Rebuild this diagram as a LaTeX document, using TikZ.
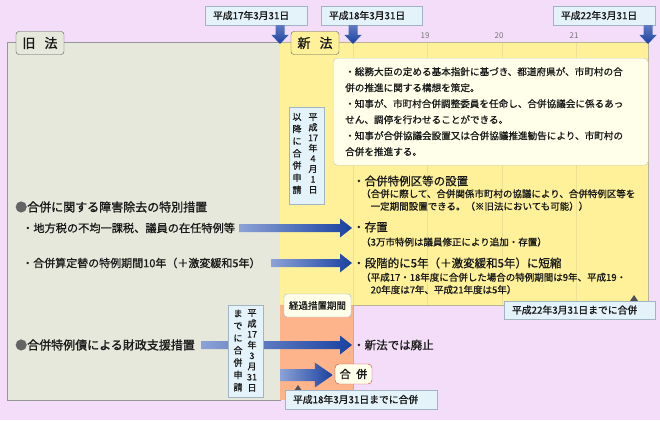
\documentclass[tikz,border=0pt]{standalone}
\usepackage{fontspec}
\usepackage{graphicx}
\setmainfont{Noto Sans CJK JP}
\newfontfamily\jpm{Noto Sans CJK JP}[FakeBold=0.8]
\newfontfamily\jpb{Noto Sans CJK JP}[FakeBold=1.4]
\usetikzlibrary{calc}
\definecolor{bgc}{RGB}{243,221,249}
\definecolor{oldc}{RGB}{229,232,219}
\definecolor{oldline}{RGB}{150,150,150}
\definecolor{newc}{RGB}{255,241,153}
\definecolor{newline}{RGB}{185,180,150}
\definecolor{gridc}{RGB}{236,224,150}
\definecolor{orc}{RGB}{253,180,138}
\definecolor{infofill}{RGB}{255,255,234}
\definecolor{infoline}{RGB}{200,200,180}
\definecolor{bfill}{RGB}{228,243,250}
\definecolor{bline}{RGB}{160,180,195}
\definecolor{alight}{RGB}{140,162,215}
\definecolor{adark}{RGB}{25,65,160}
\definecolor{txt}{RGB}{25,25,25}
\definecolor{bul}{RGB}{100,100,100}
\definecolor{redl}{RGB}{210,60,60}
\definecolor{tric}{RGB}{80,80,90}
\definecolor{labline}{RGB}{90,90,90}
\definecolor{yrc}{RGB}{120,120,120}
\newcommand{\hblue}[5]{\shade[left color=alight,right color=adark] let \p1=(#1),\p2=(#2) in (\x1,\y1+#3) -- (\x2-#5,\y1+#3) -- (\x2-#5,\y1+#4) -- (\x2,\y1) -- (\x2-#5,\y1-#4) -- (\x2-#5,\y1-#3) -- (\x1,\y1-#3) -- cycle;}
\newcommand{\vblue}[2]{\shade[top color=alight!60!adark,bottom color=adark] let \p1=(#1),\p2=(#2) in (\x1-4.5pt,\y1) -- (\x1+4.5pt,\y1) -- (\x1+4.5pt,\y2+9pt) -- (\x1+8.5pt,\y2+9pt) -- (\x1,\y2) -- (\x1-8.5pt,\y2+9pt) -- (\x1-4.5pt,\y2+9pt) -- cycle;}
\begin{document}
\begin{tikzpicture}[x=1pt,y=-1pt,
  lawlab/.style={draw=labline, rounded corners=3, minimum width=48, minimum height=23, inner sep=0, text=txt, font=\jpb\fontsize{13}{14}\selectfont},
  datebox/.style={draw=bline, fill=bfill, minimum height=19, inner xsep=8, inner ysep=0, align=left, text=txt, font=\jpm\fontsize{9.8}{11}\selectfont},
  yearlbl/.style={inner sep=0, text=yrc, font=\fontsize{8}{9}\selectfont},
  vbox/.style={draw=bline, fill=bfill, inner sep=0},
  vcol/.style={align=center, inner sep=0, text=txt},
  headtxt/.style={anchor=west, inner sep=0, text=txt, font=\jpb\fontsize{12}{13}\selectfont},
  subtxt/.style={anchor=west, inner sep=0, text=txt, font=\jpm\fontsize{11.2}{12}\selectfont},
  smalltxt/.style={anchor=west, inner sep=0, align=left, text=txt, font=\jpm\fontsize{9.5}{12.5}\selectfont},
  tri/.style={fill=tric}
]
\useasboundingbox (0,0) rectangle (660,420);
\fill[bgc] (0,0) rectangle (660,420);
% regions
\draw[fill=oldc, draw=oldline] (7,42) rectangle (280,400);
\fill[newc] (280,42) rectangle (648,305);
\fill[orc] (280,305) rectangle (353,400);
\foreach \gx in {353,427,502,576} \draw[gridc] (\gx,42) -- (\gx,305);
\draw[newline] (353,400) -- (353,305) -- (648,305) -- (648,42) -- (280,42);
% law labels
\node[lawlab, fill=oldc] (old) at (40,43) {旧\hspace{0.7em}法};
\node[lawlab, fill=newc] (new) at (315,43) {新\hspace{0.7em}法};
% date boxes and arrows
\node[datebox, minimum width=102, text width=86] (d1) at (256,15.5) {平成17年3月31日};
\node[datebox, minimum width=101, text width=85] (d2) at (371.5,15.5) {平成18年3月31日};
\node[datebox, minimum width=102, text width=86] (d3) at (604,15.5) {平成22年3月31日};
\coordinate (t1) at (280,44);
\coordinate (t2) at (353,44);
\coordinate (t3) at (648,44);
\vblue{d1.south -| t1}{t1}
\vblue{d2.south -| t2}{t2}
\vblue{d3.south -| t3}{t3}
\node[yearlbl] (y19) at (425,36) {19};
\node[yearlbl] (y20) at (499,36) {20};
\node[yearlbl] (y21) at (574,36) {21};
% info box
\node[draw=infoline, fill=infofill, rounded corners=4, anchor=north west, minimum width=303, minimum height=107, text width=291, inner xsep=12, inner ysep=0, align=left, text=txt, font=\jpm\fontsize{9.6}{16}\selectfont] (info) at (333,58) {・総務大臣の定める基本指針に基づき、都道府県が、市町村の合\\併の推進に関する構想を策定。\\・知事が、市町村合併調整委員を任命し、合併協議会に係るあっ\\せん、調停を行わせることができる。\\・知事が合併協議会設置又は合併協議推進勧告により、市町村の\\合併を推進する。};
% vertical box 1
\node[vbox, minimum width=35, minimum height=97] (vb1) at (306.5,155.5) {};
\node[vcol, font=\jpm\fontsize{9}{10.4}\selectfont] (vb1r) at (313,153.5) {平\\成\\17\\年\\4\\月\\1\\日};
\node[vcol, font=\jpm\fontsize{9}{12.2}\selectfont] (vb1l) at (297,153.5) {以\\降\\に\\合\\併\\申\\請};
% left texts
\node[headtxt] (l1) at (15,207) {{\color{bul}●}合併に関する障害除去の特別措置};
\node[subtxt] (l2) at (22,228) {・地方税の不均一課税、議員の在任特例等};
\node[subtxt, font=\jpm\fontsize{11}{12}\selectfont] (l3) at (22,263) {・合併算定替の特例期間10年（＋激変緩和5年）};
\node[headtxt] (l4) at (15,345) {{\color{bul}●}合併特例債による財政支援措置};
% right texts
\node[subtxt, font=\jpm\fontsize{11.5}{12}\selectfont] (r1) at (353,181) {・合併特例区等の設置};
\node[smalltxt] (r1b) at (361,200) {（合併に際して、合併関係市町村の協議により、合併特例区等を\\\hspace*{1em}一定期間設置できる。（※旧法においても可能））};
\node[subtxt, font=\jpm\fontsize{11.5}{12}\selectfont] (r2) at (353,227) {・存置};
\node[smalltxt] (r2b) at (361,242) {（3万市特例は議員修正により追加・存置）};
\node[subtxt, font=\jpm\fontsize{11.5}{12}\selectfont] (r3) at (353,263) {・段階的に5年（＋激変緩和5年）に短縮};
\node[smalltxt] (r3b) at (361,283.5) {（平成17・18年度に合併した場合の特例期間は9年、平成19・\\\hspace*{1em}20年度は7年、平成21年度は5年）};
\node[subtxt, font=\jpm\fontsize{11.5}{12}\selectfont] (r4) at (353,345) {・新法では廃止};
% arrows
\hblue{$(l2.east)+(4,0)$}{$(r2.west)+(-1,0)$}{4pt}{9.5pt}{12pt}
\hblue{$(l3.east)+(11,0)$}{$(r3.west)+(-1,0)$}{4pt}{9.5pt}{12pt}
\hblue{$(l4.east)+(6,0)$}{$(r4.west)+(-1,0)$}{4pt}{9.5pt}{12pt}
% vertical box 2
\node[vbox, minimum width=35, minimum height=92] (vb2) at (245.5,351) {};
\node[vcol, font=\jpm\fontsize{9}{10.7}\selectfont] (vb2r) at (252,350.5) {平\\成\\17\\年\\3\\月\\31\\日};
\node[vcol, font=\jpm\fontsize{9}{12.3}\selectfont] (vb2l) at (238,350.5) {ま\\で\\に\\合\\併\\申\\請};
% transition label
\node[draw=bline, fill=infofill, rounded corners=3, minimum width=67, minimum height=23, inner sep=0, text=txt, font=\jpm\fontsize{9.5}{11}\selectfont] (kk) at (317.5,305.5) {経過措置期間};
% merger box and arrow
\node[draw=redl, fill=infofill, rounded corners=4, minimum width=37, minimum height=20, inner sep=0, text=txt, font=\jpb\fontsize{11}{12}\selectfont] (gp) at (353.5,374) {合\hspace{0.5em}併};
\coordinate (g0) at (280,375);
\hblue{g0}{$(gp.west)+(-2,1)$}{6pt}{12.5pt}{18pt}
% bottom date boxes
\coordinate (k1) at (298,385);
\fill[tri] (k1) -- ++(4,6) -- ++(-8,0) -- cycle;
\node[datebox, minimum width=152, text width=136] (b18) at (361,399.5) {平成18年3月31日までに合併};
\coordinate (k2) at (634,295);
\fill[tri] (k2) -- ++(4,6) -- ++(-8,0) -- cycle;
\node[datebox, minimum width=151, minimum height=18, text width=135] (b22) at (579.5,310) {平成22年3月31日までに合併};
\end{tikzpicture}
\end{document}
